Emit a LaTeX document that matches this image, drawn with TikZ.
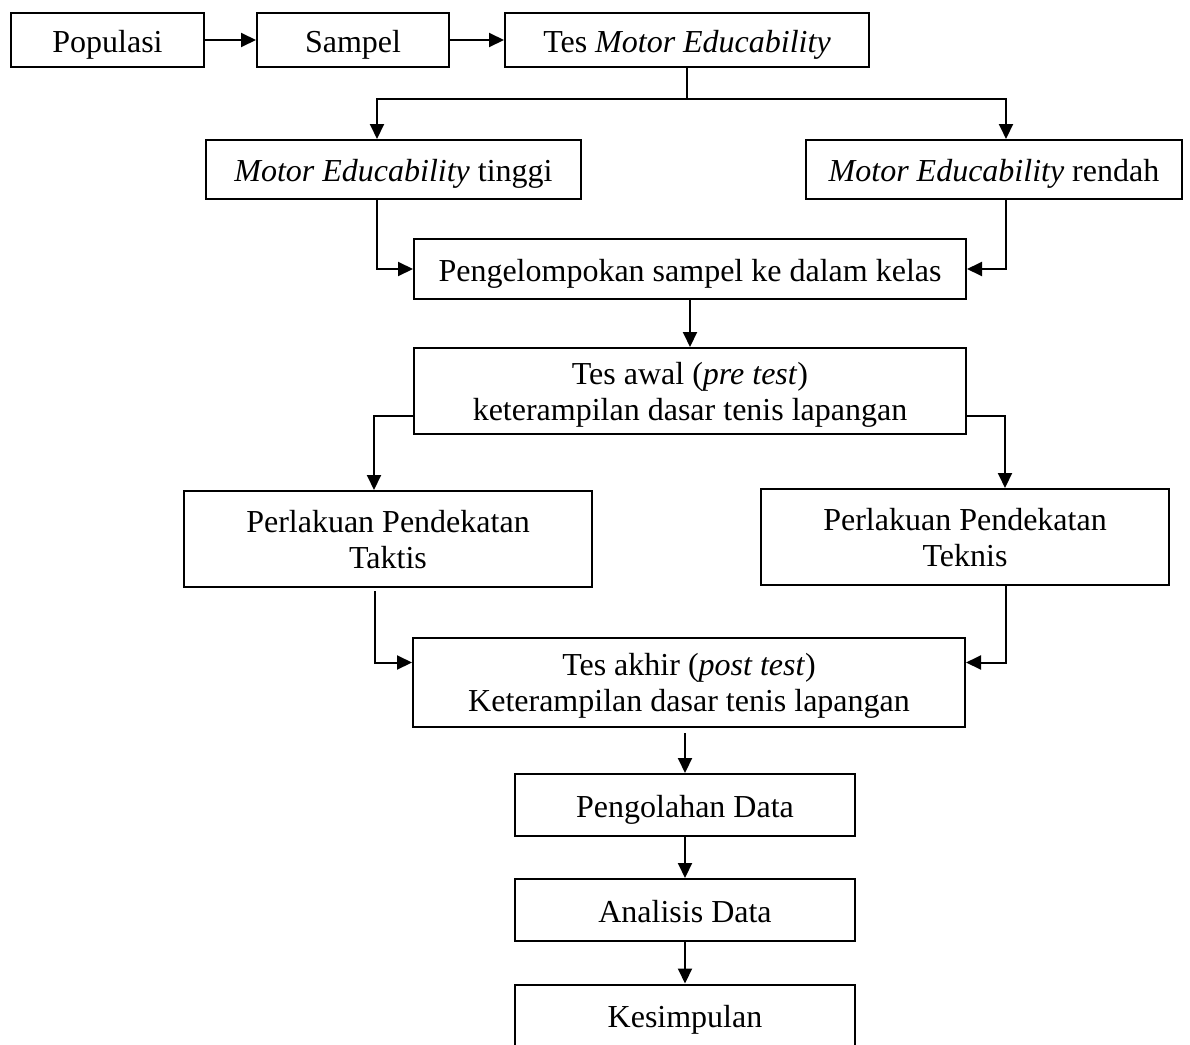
\documentclass[tikz,border=0pt]{standalone}
\usepackage{fontspec}
\setmainfont{Liberation Serif}
\usetikzlibrary{calc,arrows.meta,positioning}

\begin{document}
\begin{tikzpicture}[x=1pt,y=-1pt,
        kotak/.style={draw,line width=2pt,inner sep=0pt,align=center,
            font=\fontsize{32}{36}\selectfont,text depth=0pt},
        satu/.style={kotak,text height=24pt},
        garis/.style={line width=2pt},
        panah/.style={garis,-{Triangle[length=15pt,width=14pt]}}]
        \clip (0,0) rectangle (1190,1044);
        %\draw (0,0) rectangle (1190,1044);

        % baris atas
        \node[satu,minimum width=193pt,minimum height=54pt] (populasi) at (107.5,40) {Populasi};
        \node[satu,minimum width=192pt,minimum height=54pt] (sampel) at (353,40) {Sampel};
        \node[satu,minimum width=364pt,minimum height=54pt] (tesme) at (687,40) {Tes \textit{Motor Educability}};
        \node[satu,minimum width=375pt,minimum height=59pt] (tinggi) at (393.5,169.5) {\textit{Motor Educability} tinggi};
        \node[satu,minimum width=376pt,minimum height=59pt] (rendah) at (994,169.5) {\textit{Motor Educability} rendah};
        \node[satu,minimum width=552pt,minimum height=60pt] (kelas) at (690,269) {Pengelompokan sampel ke dalam kelas};
        \node[kotak,minimum width=552pt,minimum height=86pt] (awal) at (690,391) {Tes awal (\textit{pre test})\\keterampilan dasar tenis lapangan};
        \node[kotak,minimum width=408pt,minimum height=96pt] (taktis) at (388,539) {Perlakuan Pendekatan\\Taktis};
        \node[kotak,minimum width=408pt,minimum height=96pt] (teknis) at (965,537) {Perlakuan Pendekatan\\Teknis};
        \node[kotak,minimum width=552pt,minimum height=89pt] (akhir) at (689,682.5) {Tes akhir (\textit{post test})\\Keterampilan dasar tenis lapangan};
        \node[satu,minimum width=340pt,minimum height=62pt] (olah) at (685,805) {Pengolahan Data};
        \node[satu,minimum width=340pt,minimum height=62pt] (analisis) at (685,910) {Analisis Data};
        \node[satu,minimum width=340pt,minimum height=62pt] (simpulan) at (685,1015.5) {Kesimpulan};

        \draw[panah] (populasi) -- (sampel);
        \draw[panah] (sampel) -- (tesme);
        % percabangan
        \coordinate (cabang) at ($(tesme.south)+(0,31)$);
        \draw[garis] (tesme.south) -- (cabang);
        \draw[panah] (cabang) -| ([xshift=-16.5pt]tinggi.north);
        \draw[panah] (cabang) -| ([xshift=12pt]rendah.north);
        \draw[panah] ([xshift=-16.5pt]tinggi.south) |- (kelas.west);
        \draw[panah] ([xshift=12pt]rendah.south) |- (kelas.east);
        \draw[panah] (kelas) -- (awal);
        \draw[panah] ([yshift=-25pt]awal.west) -| ([xshift=-14pt]taktis.north);
        \draw[panah] ([yshift=-25pt]awal.east) -| ([xshift=40pt]teknis.north);
        \draw[panah,shorten <=3pt] ([xshift=-13pt]taktis.south) |- ([yshift=20pt]akhir.west);
        \draw[panah] ([xshift=41pt]teknis.south) |- ([yshift=20pt]akhir.east);
        \draw[panah,shorten <=5pt] (akhir.south -| olah.north) -- (olah.north);
        \draw[panah] (olah) -- (analisis);
        \draw[panah] (analisis) -- (simpulan);
\end{tikzpicture}
\end{document}
